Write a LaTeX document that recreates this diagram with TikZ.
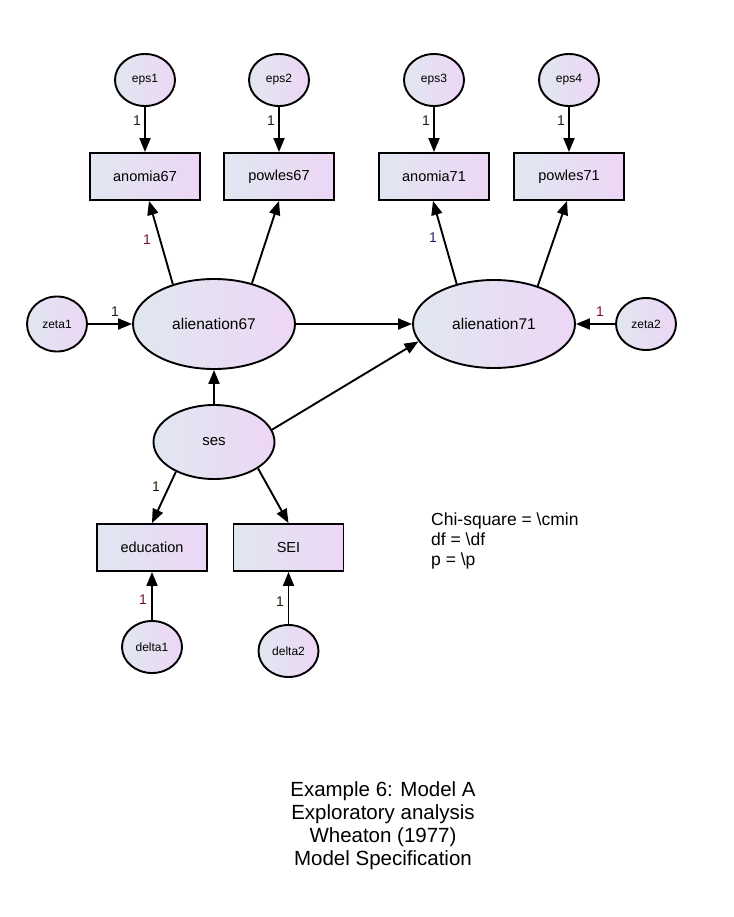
\documentclass[tikz,border=0pt]{standalone}
\usepackage{fontspec}
\setmainfont{Liberation Sans}
\usetikzlibrary{shapes.geometric,arrows.meta}
\definecolor{gA}{RGB}{224,231,240}
\definecolor{gB}{RGB}{237,214,245}
\definecolor{lblred}{RGB}{120,20,30}
\definecolor{lblblue}{RGB}{25,35,120}
\definecolor{lbldark}{RGB}{40,25,10}
\tikzset{
  latent/.style={ellipse, draw=black, line width=1.9pt, left color=gA, right color=gB, inner sep=0pt},
  errv/.style={latent, minimum width=60pt, minimum height=52pt, font=\fontsize{12}{14}\selectfont},
  obsbox/.style={rectangle, draw=black, line width=1.9pt, left color=gA, right color=gB, inner sep=0pt,
                 minimum width=110pt, minimum height=47pt, font=\fontsize{14.5}{16}\selectfont},
  arr/.style={line width=1.9pt, -{Triangle[length=14pt,width=11pt]}},
  lbl/.style={font=\fontsize{14}{16}\selectfont, text=lbldark, inner sep=0pt},
}
\begin{document}
\begin{tikzpicture}[x=1pt,y=-1pt]
\useasboundingbox (0,0) rectangle (733,917);
% error terms top
\node[errv] (eps1) at (145,80) {eps1};
\node[errv] (eps2) at (279,80) {eps2};
\node[errv] (eps3) at (434,80) {eps3};
\node[errv] (eps4) at (569,80) {eps4};
% indicators top
\node[obsbox] (anomia67) at (145,176.5) {anomia67};
\node[obsbox] (powles67) at (279,176.5) {powles67};
\node[obsbox] (anomia71) at (434,176.5) {anomia71};
\node[obsbox] (powles71) at (569,176.5) {powles71};
% latent
\node[latent, minimum width=162pt, minimum height=90pt, font=\fontsize{15.5}{18}\selectfont] (a67) at (214,324) {alienation67};
\node[latent, minimum width=162pt, minimum height=88pt, font=\fontsize{15.5}{18}\selectfont] (a71) at (494,324) {alienation71};
\node[errv, minimum height=55pt] (zeta1) at (57,324) {zeta1};
\node[errv] (zeta2) at (646,324) {zeta2};
\node[latent, minimum width=121pt, minimum height=74pt, font=\fontsize{15}{18}\selectfont] (ses) at (214,442) {ses};
% bottom indicators
\node[obsbox] (education) at (152,547.5) {education};
\node[obsbox] (SEI) at (288.5,547.5) {SEI};
\node[errv] (delta1) at (152,647) {delta1};
\node[errv] (delta2) at (288.5,651) {delta2};
% arrows
\draw[arr] (eps1) -- (anomia67);
\draw[arr] (eps2) -- (powles67);
\draw[arr] (eps3) -- (anomia71);
\draw[arr] (eps4) -- (powles71);
\draw[arr] (a67.136) -- ([xshift=4pt]anomia67.south);
\draw[arr] (a67.47) -- (powles67.south);
\draw[arr] (a71.133) -- ([xshift=-1pt]anomia71.south);
\draw[arr] (a71.41) -- ([xshift=-2pt]powles71.south);
\draw[arr] (zeta1.east) -- (a67.west);
\draw[arr] (a67.east) -- (a71.west);
\draw[arr] (zeta2.west) -- (a71.east);
\draw[arr] (ses.north) -- (a67.south);
\draw[arr] (ses.12) -- (a71.193);
\draw[arr] (ses.218) -- (education.north);
\draw[arr] (ses.329) -- (SEI.north);
\draw[arr] (delta1.north) -- (education.south);
\draw[arr] (delta2.north) -- (SEI.south);
% labels
\node[lbl] (l1) at (137,121) {1};
\node[lbl] (l2) at (271,121) {1};
\node[lbl] (l3) at (426,121) {1};
\node[lbl] (l4) at (561,121) {1};
\node[lbl, text=lblred] (l5) at (147,240) {1};
\node[lbl, text=lblblue] (l6) at (433,238) {1};
\node[lbl] (l7) at (115,312) {1};
\node[lbl, text=lblred] (l8) at (600,312) {1};
\node[lbl] (l9) at (156,487) {1};
\node[lbl, text=lblred] (l10) at (143,600) {1};
\node[lbl] (l11) at (280,602) {1};
% fit text
\node[anchor=north west, align=left, inner sep=0pt, font=\fontsize{17.5}{20}\selectfont] (fit) at (431,513)
  {Chi-square = \textbackslash cmin\\df = \textbackslash df\\p = \textbackslash p};
\node[align=center, inner sep=0pt, font=\fontsize{20.5}{23}\selectfont] (title) at (383,826)
  {Example 6: Model A\\Exploratory analysis\\Wheaton (1977)\\Model Specification};
\end{tikzpicture}
\end{document}
